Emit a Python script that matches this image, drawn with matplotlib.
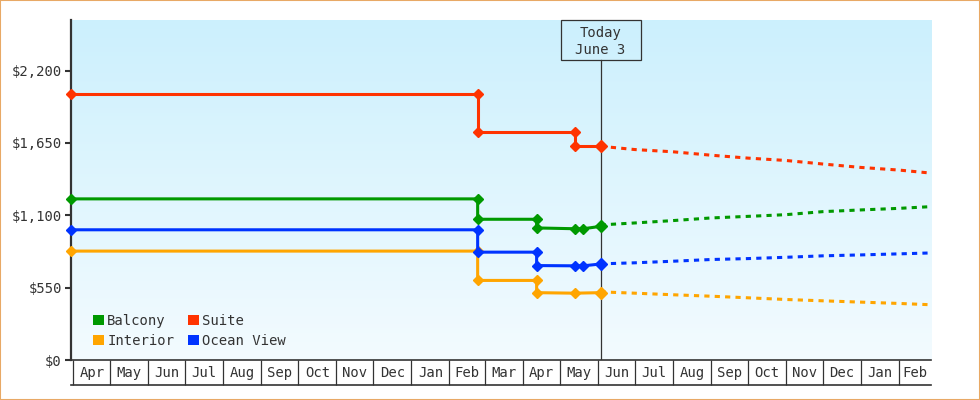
import numpy as np
import matplotlib.pyplot as plt
import matplotlib.dates as mdates
from matplotlib.colors import LinearSegmentedColormap
from matplotlib.patches import Rectangle, Patch
from matplotlib.ticker import FuncFormatter

plt.rcParams['font.family'] = ['DejaVu Sans Mono', 'DejaVu Sans']

# price history (step changes are two points on the same date)
suite_dates = ["2023-03-30", "2024-02-24", "2024-02-24", "2024-05-13", "2024-05-13", "2024-06-03"]
suite_prices = [2020, 2020, 1730, 1730, 1630, 1630]

balcony_dates = ["2023-03-30", "2024-02-24", "2024-02-24", "2024-04-12", "2024-04-12",
                 "2024-05-13", "2024-05-20", "2024-06-03"]
balcony_prices = [1225, 1225, 1070, 1070, 1004, 998, 998, 1016]

ocean_dates = ["2023-03-30", "2024-02-24", "2024-02-24", "2024-04-12", "2024-04-12",
               "2024-05-13", "2024-05-20", "2024-06-03"]
ocean_prices = [990, 990, 820, 820, 718, 716, 716, 730]

interior_dates = ["2023-03-30", "2024-02-24", "2024-02-24", "2024-04-12", "2024-04-12",
                  "2024-05-13", "2024-06-03"]
interior_prices = [828, 828, 605, 605, 512, 508, 512]

# forecast (dashed)
forecast_dates = ["2024-06-03", "2024-07-01", "2024-08-01", "2024-09-01", "2024-10-01",
                  "2024-11-01", "2024-12-01", "2025-01-01", "2025-02-01", "2025-02-27"]
suite_forecast = [1625, 1600, 1583, 1557, 1535, 1517, 1490, 1464, 1444, 1421]
balcony_forecast = [1027, 1042, 1060, 1080, 1092, 1105, 1128, 1141, 1153, 1166]
ocean_forecast = [731, 739, 751, 764, 771, 781, 792, 799, 807, 814]
interior_forecast = [518, 508, 496, 485, 473, 460, 450, 440, 430, 420]

month_labels = ["Apr", "May", "Jun", "Jul", "Aug", "Sep", "Oct", "Nov", "Dec", "Jan", "Feb", "Mar",
                "Apr", "May", "Jun", "Jul", "Aug", "Sep", "Oct", "Nov", "Dec", "Jan", "Feb"]
y_ticks = [0, 550, 1100, 1650, 2200]
today = "2024-06-03"
x_start, x_end = "2023-03-30", "2025-02-27"

series = [
    ("Balcony", balcony_dates, balcony_prices, balcony_forecast, "#009900"),
    ("Interior", interior_dates, interior_prices, interior_forecast, "#ffa500"),
    ("Suite", suite_dates, suite_prices, suite_forecast, "#ff3300"),
    ("Ocean View", ocean_dates, ocean_prices, ocean_forecast, "#0033ff"),
]


def to_num(dates):
    return mdates.date2num(np.array(dates, dtype="datetime64[D]"))


dark = "#333333"
fig = plt.figure(figsize=(9.8, 4), dpi=100)
ax = fig.add_axes([71 / 980, 40 / 400, 860 / 980, 340 / 400])

# background gradient
cmap = LinearSegmentedColormap.from_list("bg", ["#ccf0fd", "#f3fbff"])
ax.imshow(np.linspace(0, 1, 256).reshape(-1, 1), extent=[0, 1, 0, 1], transform=ax.transAxes,
          aspect="auto", cmap=cmap, zorder=0)

fx = to_num(forecast_dates)
handles = []
for name, dates, prices, fc, color in series:
    x = to_num(dates)
    ax.plot(x, prices, color=color, lw=2.2, marker="D", ms=4.8, clip_on=False, zorder=3)
    ax.plot(x[-1:], prices[-1:], color=color, marker="D", ms=6.2, ls="none", clip_on=False, zorder=4)
    ax.plot(fx, fc, color=color, lw=2.2, dashes=(1.7, 1.7), zorder=3)
    handles.append(Patch(facecolor=color, edgecolor="none", label=name))

x0, x1 = to_num([x_start, x_end])
ax.set_xlim(x0, x1)
ax.set_ylim(0, 2585)

# y axis
ax.set_yticks(y_ticks)
ax.yaxis.set_major_formatter(FuncFormatter(lambda v, _: f"${v:,.0f}"))
ax.tick_params(axis="y", length=4.5, width=1.5, color=dark, pad=2, labelsize=10, labelcolor=dark)

# month boxes on the x axis
months = np.arange("2023-04", "2025-03", dtype="datetime64[M]").astype("datetime64[D]")
starts = mdates.date2num(months)
ends = np.append(starts[1:], x1)
ax.set_xticks(starts, minor=True)
ax.set_xticks((starts + ends) / 2)
ax.set_xticklabels(month_labels)
ax.tick_params(axis="x", which="minor", length=18, width=0.9, color=dark, direction="out")
ax.tick_params(axis="x", which="major", length=0, pad=4, labelsize=10, labelcolor=dark)
ax.plot([0, 1], [-25 / 340] * 2, transform=ax.transAxes, clip_on=False, color=dark, lw=1.2)

for s in ["top", "right"]:
    ax.spines[s].set_visible(False)
ax.spines["left"].set_linewidth(1.6)
ax.spines["left"].set_color(dark)
ax.spines["bottom"].set_linewidth(1.2)
ax.spines["bottom"].set_color(dark)

# today marker
t = to_num([today])[0]
ax.axvline(t, ymin=0, ymax=1 - 40 / 340, color=dark, lw=0.9, zorder=2)
xf = (t - x0) / (x1 - x0)
ax.add_patch(Rectangle((xf - 40 / 860, 1 - 40 / 340), 80 / 860, 40 / 340, transform=ax.transAxes,
                       fill=False, ec=dark, lw=0.9, clip_on=False, zorder=5))
ax.text(xf, 1 - 21.5 / 340, "Today\nJune 3", transform=ax.transAxes, ha="center", va="center",
        linespacing=1.3, fontsize=10, color=dark)

ax.legend(handles=handles, ncol=2, loc="lower left", bbox_to_anchor=(0.026, 0.036), frameon=False,
          handlelength=0.75, handleheight=0.75, handletextpad=0.25, columnspacing=1.0,
          labelspacing=0.45, borderpad=0, borderaxespad=0, fontsize=10, labelcolor=dark)

fig.patches.append(Rectangle((0, 0), 1, 1, transform=fig.transFigure, fill=False,
                             ec="#e8a965", lw=1.5))

fig.savefig("out.png", dpi=100)
